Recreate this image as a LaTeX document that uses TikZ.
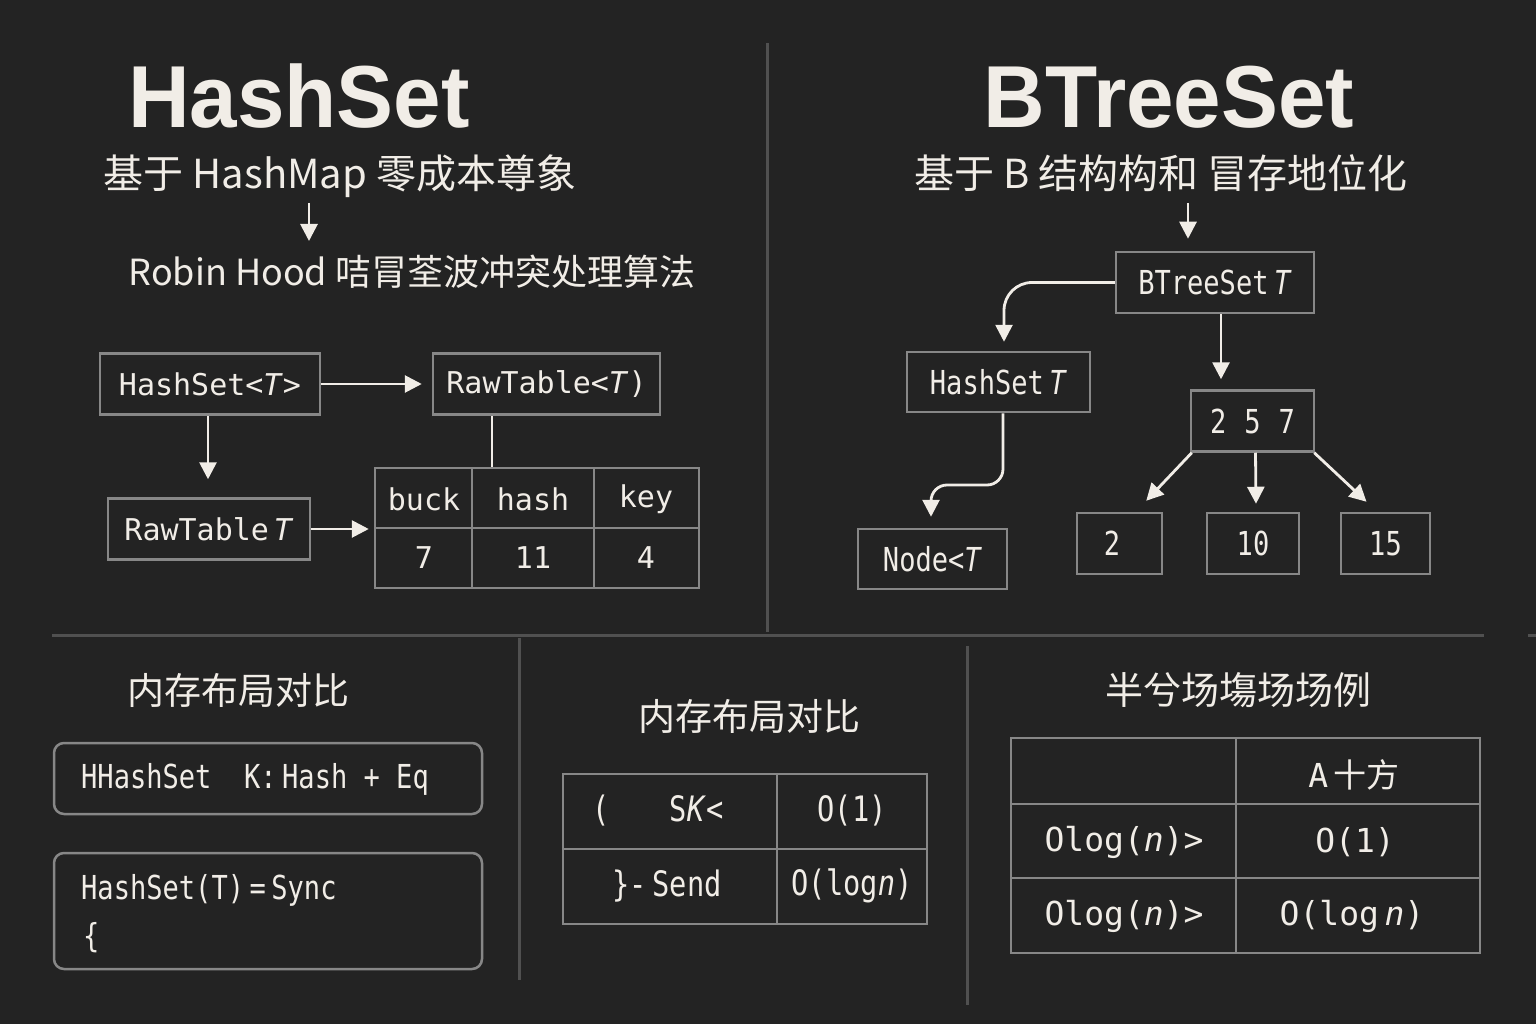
\documentclass[tikz,border=0pt]{standalone}
\usepackage{fontspec}
\setmainfont{Liberation Sans}
\newfontfamily\titlef[FakeStretch=0.97]{Liberation Sans}
\newfontfamily\cjk{Noto Sans CJK SC}
\newfontfamily\mono{DejaVu Sans Mono}
\newfontfamily\monoc[FakeStretch=0.82]{DejaVu Sans Mono}
\usetikzlibrary{arrows.meta}
\definecolor{bg}{HTML}{232323}
\definecolor{fg}{HTML}{F1EDE7}
\definecolor{divc}{HTML}{505050}
\definecolor{boxc}{HTML}{878787}
\tikzset{
  title/.style={font=\titlef\fontsize{88}{92}\selectfont\bfseries, text=fg, inner sep=0pt, anchor=base},
  sub/.style={font=\cjk\fontsize{40}{44}\selectfont, text=fg, inner sep=0pt, anchor=base},
  head/.style={font=\cjk\fontsize{37}{40}\selectfont, text=fg, inner sep=0pt, anchor=base},
  box/.style={draw=boxc, line width=2.5pt, fill=bg, text=fg, inner sep=0pt},
  hbox/.style={box, font=\mono\fontsize{30}{34}\selectfont},
  tbox/.style={box, font=\monoc\fontsize{33}{36}\selectfont},
  rbox/.style={draw=boxc, line width=2.5pt, rounded corners=10pt, inner sep=0pt},
  cell/.style={text=fg, inner sep=0pt},
  tline/.style={draw=boxc, line width=2.5pt},
  divline/.style={draw=divc, line width=3pt},
  arr/.style={draw=fg, line width=2.8pt, -{Triangle[length=17pt,width=17pt]}},
  conn/.style={draw=fg, line width=2.8pt},
}
\begin{document}
\begin{tikzpicture}[x=1pt,y=-1pt]
\useasboundingbox (0,0) rectangle (1536,1024);
\fill[bg] (0,0) rectangle (1536,1024);

% dividers
\draw[divline] (767,43) -- (767,632);
\draw[divline] (52,635) -- (1484,635);
\draw[divline] (1528,635) -- (1536,635);
\draw[divline] (519,638) -- (519,980);
\draw[divline] (967,646) -- (967,1005);

% ---------- HashSet panel ----------
\node[title] (t1) at (299,128) {HashSet};
\node[sub] (s1) at (340,189) {基于 HashMap 零成本尊象};
\node[sub, font=\cjk\fontsize{36}{40}\selectfont] (s2) at (412,286) {Robin Hood 咭冐荃波冲突处理算法};
\draw[arr] ([xshift=-31pt,yshift=-14pt]s1.base) -- ([xshift=-103pt,yshift=45pt]s2.base);

\node[hbox, minimum width=220, minimum height=61] (hs) at (210,384) {HashSet<\textit{T}>};
\node[hbox, minimum width=227, minimum height=61] (rt) at (546.5,384) {RawTable<\textit{T})};
\node[hbox, minimum width=202, minimum height=61] (rawT) at (209,529) {RawTable\,\textit{T}};
\node[box, minimum width=324, minimum height=120] (tb) at (537,528) {};
\draw[tline] (472,468) -- (472,588);
\draw[tline] (594,468) -- (594,588);
\draw[tline] (375,528) -- (699,528);
\begin{scope}[every node/.style={cell, font=\mono\fontsize{30}{34}\selectfont}]
\node (c11) at (424,499) {buck};
\node (c12) at (533,499) {hash};
\node (c13) at (646,499) {key};
\node (c21) at (424,558) {7};
\node (c22) at (533,558) {11};
\node (c23) at (646,558) {4};
\end{scope}
\draw[arr] (hs.east) -- ([xshift=-10pt]rt.west);
\draw[arr] ([xshift=-2pt]hs.south) -- ([xshift=-2pt,yshift=18pt]hs.south |- rawT.north);
\draw[arr] (rawT.east) -- ([xshift=-5pt]tb.west |- rawT.east);
\draw[conn] ([xshift=-54.5pt]rt.south) -- ([xshift=-54.5pt]rt.south |- tb.north);

% ---------- BTreeSet panel ----------
\node[title] (t2) at (1169,128) {BTreeSet};
\node[sub] (s3) at (1161,189) {基于 B 结构构和 冒存地位化};
\node[tbox, minimum width=198, minimum height=61] (bt) at (1215,282.5) {BTreeSet\,\textit{T}};
\draw[arr] ([xshift=27pt,yshift=-14pt]s3.base) -- ([xshift=-27pt,yshift=12pt]bt.north);
\node[tbox, minimum width=183, minimum height=60] (hs2) at (998.5,382) {HashSet\,\textit{T}};
\node[tbox, minimum width=149, minimum height=60] (nd) at (932.5,559) {Node<\textit{T}};
\node[tbox, minimum width=123, minimum height=61] (n257) at (1252.5,421) {2\hspace{18pt}5\hspace{18pt}7};
\node[tbox, minimum width=85, minimum height=61] (k2) at (1119.5,543.5) {2\hspace*{15pt}};
\node[tbox, minimum width=92, minimum height=61] (k10) at (1253,543.5) {10};
\node[tbox, minimum width=89, minimum height=61] (k15) at (1385.5,543.5) {15};

\draw[arr, rounded corners=28pt] (bt.west) -| ([xshift=5.5pt,yshift=9pt]hs2.north);
\draw[arr] ([xshift=6pt]bt.south) -- ([xshift=6pt,yshift=10pt]bt.south |- n257.north);
\draw[arr, rounded corners=16pt] ([xshift=4.5pt]hs2.south) -- ([xshift=4.5pt]hs2.south |- 0,485) -| ([xshift=-1.5pt,yshift=11pt]nd.north);
\draw[arr] ([xshift=2pt]n257.south west) -- ([xshift=-17pt,yshift=11pt]k2.north east);
\draw[arr] ([xshift=3pt]n257.south) -- ([xshift=3pt,yshift=8pt]k10.north);
\draw[arr] ([xshift=-1pt]n257.south east) -- ([xshift=-19pt,yshift=10pt]k15.north);

% ---------- bottom left ----------
\node[head] (h1) at (238,704) {内存布局对比};
\node[rbox, minimum width=428, minimum height=71] (b1) at (268,778.5) {};
\node[cell, anchor=west, font=\monoc\fontsize{33}{36}\selectfont] (b1t) at (81,779) {HHashSet\ \ K:\,Hash + Eq};
\node[rbox, minimum width=428, minimum height=116] (b2) at (268,911) {};
\node[cell, anchor=west, font=\monoc\fontsize{33}{36}\selectfont] (b2t) at (81,890) {HashSet(T)\,=\,Sync};
\node[cell, anchor=west, font=\monoc\fontsize{33}{36}\selectfont] (b2b) at (83,938) {\{};

% ---------- bottom middle ----------
\node[head] (h2) at (749,730) {内存布局对比};
\node[box, minimum width=364, minimum height=150] (mt) at (745,849) {};
\draw[tline] (777,774) -- (777,924);
\draw[tline] (563,849) -- (927,849);
\begin{scope}[every node/.style={cell, font=\monoc\fontsize{35}{38}\selectfont}]
\node (m11) at (658,811) {(\hspace{60pt}S\textit{K}<};
\node (m12) at (852,811) {O(1)};
\node (m21) at (667,886) {\}-\,Send};
\node (m22) at (852,886) {O(log\textit{n})};
\end{scope}

% ---------- bottom right ----------
\node[head, font=\cjk\fontsize{38}{41}\selectfont] (h3) at (1238,704) {半兮场塲场场例};
\node[box, minimum width=469, minimum height=215] (rt2) at (1245.5,845.5) {};
\draw[tline] (1236,738) -- (1236,953);
\draw[tline] (1011,804) -- (1480,804);
\draw[tline] (1011,878) -- (1480,878);
\begin{scope}[every node/.style={cell, font=\mono\fontsize{33}{36}\selectfont}]
\node (r12) at (1354,775) {A\,{\cjk 十方}};
\node (r21) at (1124,842) {Olog(\textit{n})>};
\node (r22) at (1355,842) {O(1)};
\node (r31) at (1124,916) {Olog(\textit{n})>};
\node (r32) at (1352,916) {O(log\,\textit{n})};
\end{scope}
\end{tikzpicture}
\end{document}
